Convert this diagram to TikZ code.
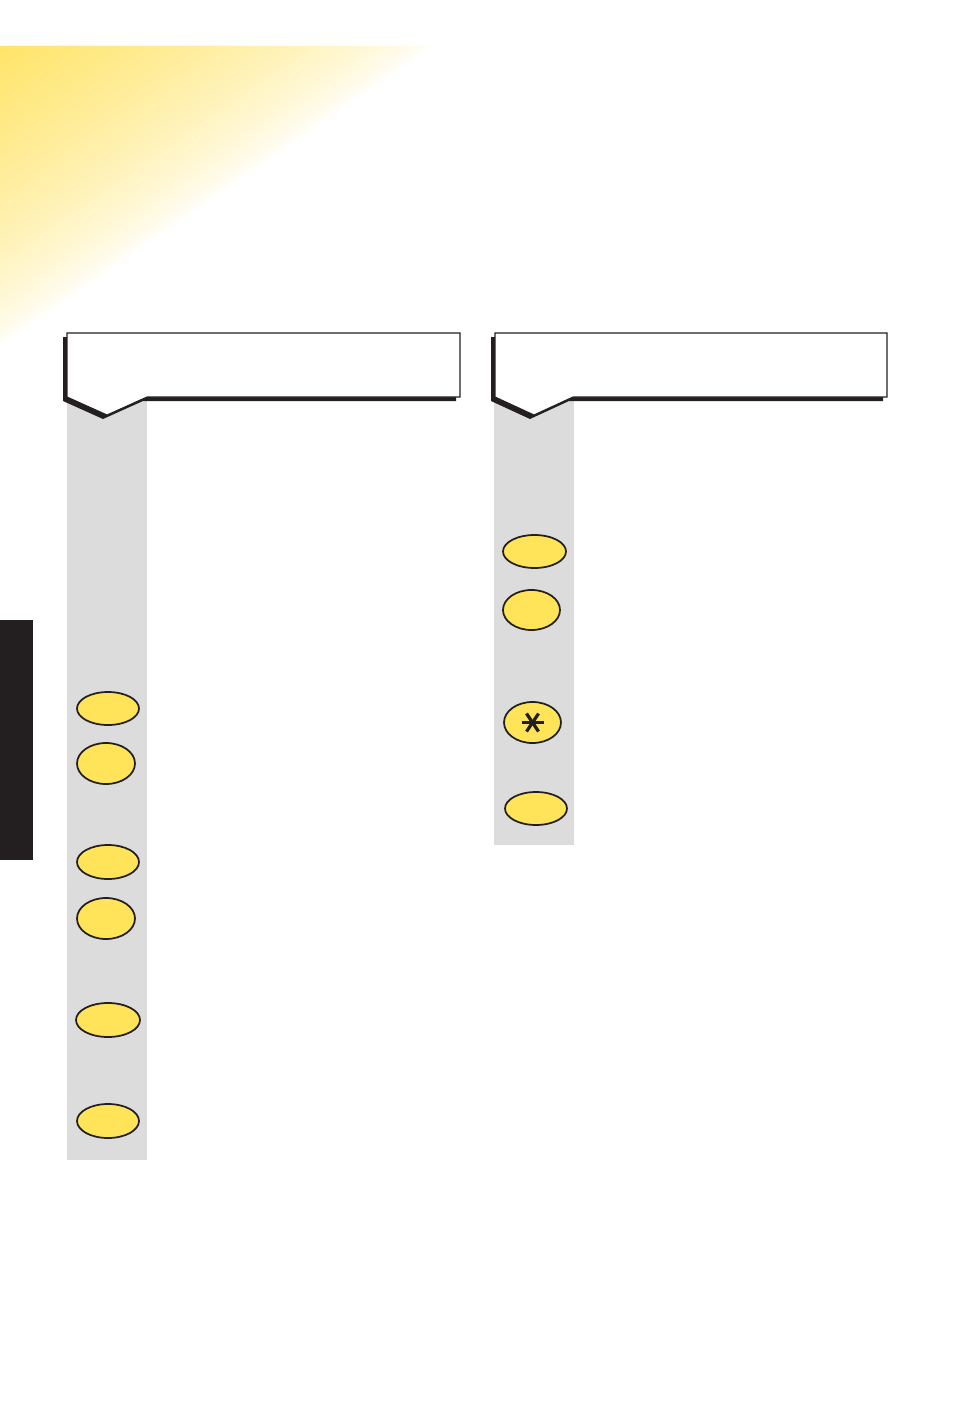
\documentclass[tikz,border=0pt]{standalone}
\usetikzlibrary{shapes.geometric}
\definecolor{btnyellow}{HTML}{FFE359}
\definecolor{fadeyellow}{HTML}{FFE46A}
\definecolor{colgray}{HTML}{DCDCDC}
\definecolor{inkblack}{HTML}{231F20}
\tikzset{
  btn/.style={ellipse, draw=inkblack, fill=btnyellow, line width=1.3pt, inner sep=0pt},
  widebtn/.style={btn, minimum width=62*0.75pt, minimum height=33*0.75pt},
  roundbtn/.style={btn, minimum width=58*0.75pt, minimum height=41*0.75pt},
  column/.style={fill=colgray, draw=none},
  headshadow/.style={fill=inkblack, draw=none},
  headbox/.style={fill=white, draw=inkblack, line width=0.8pt, line join=miter},
  tab/.style={fill=inkblack, draw=none}
}
\begin{document}
\begin{tikzpicture}[x=0.75pt, y=-0.75pt]
\useasboundingbox (0,0) rectangle (954,1413);
\fill[white] (0,0) rectangle (954,1413);

% gradient triangle
\begin{scope}
  \clip (0,46) -- (432,46) -- (0,345) -- cycle;
  \foreach \i in {0,...,99}{
    \pgfmathsetmacro{\ta}{\i/100}
    \pgfmathsetmacro{\tb}{(\i+1.3)/100}
    \pgfmathsetmacro{\pc}{100*(1-\ta)^0.7}
    \fill[fadeyellow!\pc!white] (0,{46+299*\ta}) -- ({432*\ta},46) -- ({432*\tb},46) -- (0,{46+299*\tb}) -- cycle;
  }
\end{scope}

% black side tab
\fill[tab] (0,620) rectangle (33,860);

% gray columns
\fill[column] (67,397) rectangle (147,1160);
\fill[column] (494,397) rectangle (574,845);

% left header
\fill[headshadow] (63,337) -- (456,337) -- (456,401) -- (143,401) -- (103,419) -- (63,401) -- cycle;
\draw[headbox] (67,333) -- (460,333) -- (460,397) -- (147,397) -- (107,415) -- (67,397) -- cycle;

% right header
\fill[headshadow] (491,337) -- (883,337) -- (883,401) -- (569,401) -- (530,419) -- (491,401) -- cycle;
\draw[headbox] (495,333) -- (887,333) -- (887,397) -- (573,397) -- (534,415) -- (495,397) -- cycle;

% left column buttons
\node[widebtn] (L1) at (108,708.5) {};
\node[roundbtn] (L2) at (106,763.5) {};
\node[widebtn, minimum height=34*0.75pt] (L3) at (108,862) {};
\node[roundbtn] (L4) at (106,918.5) {};
\node[widebtn, minimum width=64*0.75pt, minimum height=34*0.75pt] (L5) at (108,1020) {};
\node[widebtn, minimum height=34*0.75pt] (L6) at (108,1121) {};

% right column buttons
\node[widebtn, minimum width=63*0.75pt] (R1) at (534.5,551.5) {};
\node[roundbtn, minimum width=57*0.75pt, minimum height=40*0.75pt] (R2) at (531.5,610) {};
\node[roundbtn, minimum width=57*0.75pt] (R3) at (532.5,722.5) {};
\node[widebtn] (R4) at (536,808.5) {};

% asterisk on R3
\begin{scope}[line width=2.4pt, line cap=butt]
  \draw[inkblack] (R3.center) ++(-11,0) -- ++(22,0);
  \draw[inkblack] (R3.center) ++(-6,-9) -- ++(12,18);
  \draw[inkblack] (R3.center) ++(6,-9) -- ++(-12,18);
\end{scope}
\end{tikzpicture}
\end{document}
